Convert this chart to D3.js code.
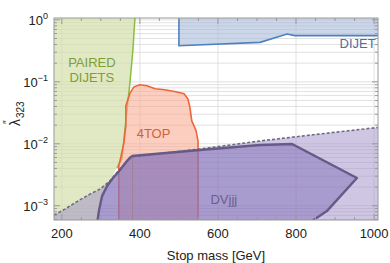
<!DOCTYPE html>
<html>
<head>
<meta charset="utf-8">
<script src="https://cdn.jsdelivr.net/npm/d3@7"></script>
<style>
  body { margin: 0; background: #fff; }
  text { font-family: "Liberation Sans", Arial, sans-serif; }
</style>
</head>
<body>
<div id="chart"></div>
<script>
var svgWidth = 390;
var svgHeight = 263;

// plot frame in pixels
var margin = { top: 18, right: 12, bottom: 43, left: 54 };
var width = svgWidth - margin.left - margin.right;
var height = svgHeight - margin.top - margin.bottom;

// data: [stop mass GeV, lambda''_323]
var xTicks = [200, 400, 600, 800, 1000];
var yTicks = [1e-3, 1e-2, 1e-1, 1];
var yTickLabels = ["-3", "-2", "-1", "0"];

var pairedDijets = [
  [180, 1.1], [388, 1.1], [387, 1.0], [382, 0.318], [375, 0.104], [364, 0.0234],
  [354, 0.0057], [341, 0.0041], [318, 0.0021], [298, 0.00099], [290, 0.0005], [180, 0.0005]
];
var pairedEdge = [
  [388, 1.1], [387, 1.0], [382, 0.318], [375, 0.104], [364, 0.0234],
  [354, 0.0057], [341, 0.0041]
];
var fourTop = [
  [346, 0.0005], [346, 0.0044], [352, 0.0064], [359, 0.0103], [364, 0.0195],
  [364, 0.041], [375, 0.0665], [385, 0.083], [400, 0.0896], [418, 0.0862],
  [439, 0.0771], [464, 0.0743], [492, 0.069], [513, 0.064], [523, 0.0532],
  [528, 0.0395], [533, 0.0234], [544, 0.0162], [549, 0.0111], [549, 0.0005]
];
var fourTopInner = [[381, 0.0064], [381, 0.0005]];
var dijet = [
  [500, 1.1], [500, 0.383], [708, 0.433], [777, 0.592], [797, 0.556],
  [1015, 0.556], [1015, 1.1]
];
var dvLight = [
  [180, 0.000705], [208, 0.000883], [241, 0.00119], [272, 0.00154], [298, 0.00186],
  [323, 0.00251], [349, 0.00392], [375, 0.00612], [554, 0.00824], [708, 0.0111],
  [861, 0.0144], [1015, 0.0185], [1015, 0.0004], [180, 0.0004]
];
var dvDashed = [
  [180, 0.000705], [208, 0.000883], [241, 0.00119], [272, 0.00154], [298, 0.00186],
  [323, 0.00251], [349, 0.00392], [375, 0.00612], [554, 0.00824], [708, 0.0111],
  [861, 0.0144], [1015, 0.0185]
];
var dvDark = [
  [290, 0.0005], [295, 0.00082], [303, 0.00143], [316, 0.00208], [331, 0.0028],
  [349, 0.00377], [367, 0.00528], [380, 0.00635], [554, 0.00794], [708, 0.00957],
  [790, 0.00994], [956, 0.0028], [879, 0.00082], [828, 0.0005]
];

var svg = d3.select("#chart")
  .append("svg")
  .attr("width", svgWidth)
  .attr("height", svgHeight);

var defs = svg.append("defs");
defs.append("clipPath").attr("id", "clip")
  .append("rect").attr("width", width).attr("height", height);

var chartGroup = svg.append("g")
  .attr("transform", `translate(${margin.left}, ${margin.top})`);

var x = d3.scaleLinear().domain([180, 1010]).range([0, width]);
var y = d3.scaleLog().domain([Math.pow(10, -3.23), Math.pow(10, 0.03)]).range([height, 0]);

// grid
var minorY = [];
[-4, -3, -2, -1, 0].forEach(function(e) {
  for (var k = 1; k < 10; k++) minorY.push(k * Math.pow(10, e));
});
minorY = minorY.filter(v => v >= y.domain()[0] && v <= y.domain()[1]);

var grid = chartGroup.append("g");
grid.selectAll("line.h").data(minorY).enter().append("line")
  .attr("x1", 0).attr("x2", width)
  .attr("y1", d => y(d)).attr("y2", d => y(d))
  .attr("stroke", "#d9d9d9").attr("stroke-width", 0.8);
grid.selectAll("line.v").data(xTicks).enter().append("line")
  .attr("x1", d => x(d)).attr("x2", d => x(d))
  .attr("y1", 0).attr("y2", height)
  .attr("stroke", "#d9d9d9").attr("stroke-width", 0.8);

var line = d3.line().x(d => x(d[0])).y(d => y(d[1]));
var area = d3.line().x(d => x(d[0])).y(d => y(d[1])).curve(d3.curveLinearClosed);
var shapes = chartGroup.append("g").attr("clip-path", "url(#clip)");

shapes.append("path").attr("d", area(pairedDijets))
  .attr("fill", "#d3dfab").attr("fill-opacity", 0.7);
shapes.append("path").attr("d", line(pairedEdge))
  .attr("fill", "none").attr("stroke", "#8cbd3c").attr("stroke-width", 1.5);

shapes.append("path").attr("d", area(fourTop))
  .attr("fill", "#f7a58c").attr("fill-opacity", 0.55)
  .attr("stroke", "#f0643a").attr("stroke-width", 1.6);
shapes.append("path").attr("d", line(fourTopInner))
  .attr("fill", "none").attr("stroke", "#e8a030").attr("stroke-width", 1);

shapes.append("path").attr("d", area(dijet))
  .attr("fill", "#a9bad8").attr("fill-opacity", 0.6)
  .attr("stroke", "#4f80c0").attr("stroke-width", 1.6);

shapes.append("path").attr("d", area(dvLight))
  .attr("fill", "#9d8ec8").attr("fill-opacity", 0.5);
shapes.append("path").attr("d", line(dvDashed))
  .attr("fill", "none").attr("stroke", "#6f6a80")
  .attr("stroke-width", 1.6).attr("stroke-dasharray", "3,2");

shapes.append("path").attr("d", area(dvDark))
  .attr("fill", "#7a66b2").attr("fill-opacity", 0.45)
  .attr("stroke", "#655a88").attr("stroke-width", 2.4)
  .attr("stroke-linejoin", "round");

// frame and ticks
chartGroup.append("rect")
  .attr("width", width).attr("height", height)
  .attr("fill", "none").attr("stroke", "#9a9a9a").attr("stroke-width", 1);

var minorX = d3.range(200, 1010, 50);
var ticks = chartGroup.append("g").attr("stroke", "#9a9a9a");
ticks.selectAll("line.xb").data(minorX).enter().append("line")
  .attr("x1", d => x(d)).attr("x2", d => x(d))
  .attr("y1", height).attr("y2", d => height - (d % 200 === 0 ? 6 : 3));
ticks.selectAll("line.xt").data(minorX).enter().append("line")
  .attr("x1", d => x(d)).attr("x2", d => x(d))
  .attr("y1", 0).attr("y2", d => (d % 200 === 0 ? 6 : 3));
ticks.selectAll("line.yl").data(minorY).enter().append("line")
  .attr("y1", d => y(d)).attr("y2", d => y(d))
  .attr("x1", 0).attr("x2", d => (yTicks.indexOf(d) >= 0 ? 6 : 3));
ticks.selectAll("line.yr").data(minorY).enter().append("line")
  .attr("y1", d => y(d)).attr("y2", d => y(d))
  .attr("x1", width).attr("x2", d => width - (yTicks.indexOf(d) >= 0 ? 6 : 3));

// tick labels
chartGroup.selectAll("text.xl").data(xTicks).enter().append("text")
  .attr("x", d => x(d)).attr("y", height + 18)
  .attr("text-anchor", "middle").attr("font-size", 13).attr("fill", "#222")
  .text(d => d);

var yl = chartGroup.selectAll("text.yl").data(yTicks).enter().append("text")
  .attr("x", -6).attr("y", d => y(d) + 5)
  .attr("text-anchor", "end").attr("font-size", 13).attr("fill", "#222");
yl.append("tspan").text("10");
yl.append("tspan").attr("dy", -6).attr("font-size", 9)
  .text((d, i) => yTickLabels[i].replace("-", "\u2212"));

// axis titles
chartGroup.append("text")
  .attr("x", width / 2).attr("y", height + 40)
  .attr("text-anchor", "middle").attr("font-size", 13).attr("fill", "#222")
  .text("Stop mass [GeV]");

var yt = svg.append("g")
  .attr("transform", "translate(20, 126) rotate(-90)")
  .attr("fill", "#222");
yt.append("text").attr("x", 0).attr("y", 0).attr("font-size", 14).text("\u03bb");
yt.append("text").attr("x", 2).attr("y", -9).attr("font-size", 10).text("\u2032\u2032");
yt.append("text").attr("x", 8).attr("y", 4).attr("font-size", 10).text("323");

// region labels
chartGroup.append("text")
  .attr("x", x(277)).attr("y", y(0.173))
  .attr("text-anchor", "middle").attr("font-size", 13).attr("fill", "#7f9e36")
  .text("PAIRED");
chartGroup.append("text")
  .attr("x", x(277)).attr("y", y(0.099))
  .attr("text-anchor", "middle").attr("font-size", 13).attr("fill", "#7f9e36")
  .text("DIJETS");
chartGroup.append("text")
  .attr("x", x(435)).attr("y", y(0.0125))
  .attr("text-anchor", "middle").attr("font-size", 13).attr("fill", "#d2603a")
  .text("4TOP");
chartGroup.append("text")
  .attr("x", x(1004)).attr("y", y(0.35))
  .attr("text-anchor", "end").attr("font-size", 13).attr("fill", "#4e6da3")
  .text("DIJET");
chartGroup.append("text")
  .attr("x", x(615)).attr("y", y(0.00107))
  .attr("text-anchor", "middle").attr("font-size", 13).attr("fill", "#6a5f90")
  .text("DVjjj");
</script>
</body>
</html>
